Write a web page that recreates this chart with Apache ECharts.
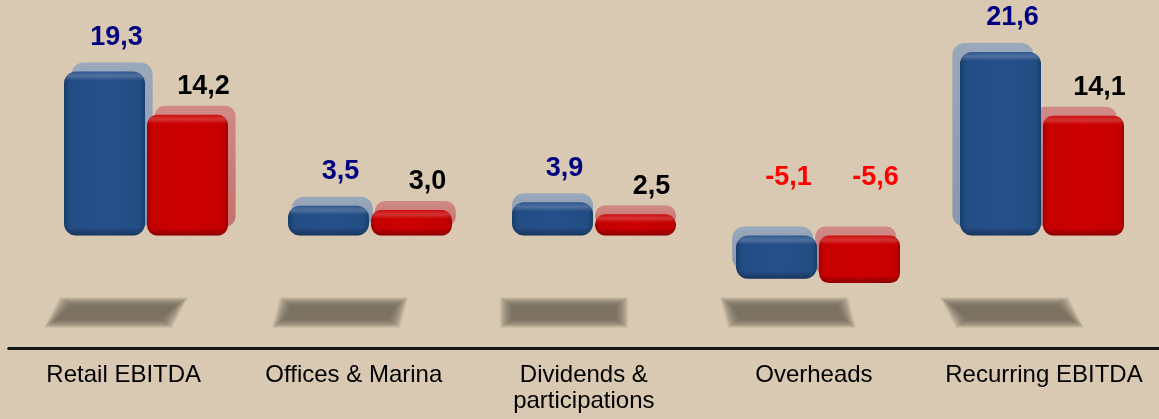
<!DOCTYPE html>
<html>
<head>
<meta charset="utf-8">
<script src="https://cdn.jsdelivr.net/npm/echarts@6/dist/echarts.min.js"></script>
<style>
html,body{margin:0;padding:0;background:#d9c9b2;}
#chart{width:1159px;height:419px;}
</style>
</head>
<body>
<div id="chart"></div>
<script>
// ---- data ----
const categories = ['Retail EBITDA', 'Offices & Marina', 'Dividends &\nparticipations', 'Overheads', 'Recurring EBITDA'];
const seriesBlue = [19.3, 3.5, 3.9, -5.1, 21.6];
const seriesRed = [14.2, 3.0, 2.5, -5.6, 14.1];

function fmt(v) { return v.toFixed(1).replace('.', ','); }

const BLUE = {
  back: ['#9aa8bb', '#8697ad'],
  front: ['#173d6b', '#224c84', '#25508a', '#224c84', '#173d6b'],
  label: '#000080', dx: 12, dy: -34
};
const RED = {
  back: ['#d08a86', '#c5706c'],
  front: ['#a80000', '#c80000', '#cd0000', '#c60000', '#a40000'],
  label: '#000000', dx: 16, dy: -28
};

function makeRender(isBlue) {
  const pal = isBlue ? BLUE : RED;
  return function (params, api) {
    const i = api.value(0), v = api.value(1);
    const base = api.coord([i, 0]);
    const cx = base[0], y0 = base[1];
    const yv = api.coord([i, v])[1];
    const midX = api.coord([2, 0])[0];
    const W = 81;
    const left = isBlue ? cx - 82 : cx + 1;
    const top = Math.min(y0, yv);
    const h = Math.max(Math.abs(yv - y0), 16);
    const dx = -(cx - midX) * 0.017;
    const dy = -9;
    const r = isBlue ? 12 : 10;
    const children = [];

    // soft floor shadow (drawn once per category with the blue series)
    if (isBlue) {
      const sx = cx - 30;
      const s = (cx - midX) * 0.035;
      const sy0 = y0 + 66, sy1 = y0 + 88;
      for (let k = 0; k < 13; k++) {
        const g = 6 - k; // outer (soft) to inner
        children.push({
          type: 'polygon', z2: -10, smooth: 0,
          shape: {
            points: [
              [sx - 58 - s / 2 - g, sy0 - g * 0.7],
              [sx + 58 - s / 2 + g, sy0 - g * 0.7],
              [sx + 58 + s / 2 + g, sy1 + g * 0.7],
              [sx - 58 + s / 2 - g, sy1 + g * 0.7]
            ]
          },
          style: { fill: 'rgba(105,95,80,0.12)' }
        });
      }
    }
    // back (depth) face
    children.push({
      type: 'rect', z2: 0,
      shape: { x: left + dx, y: top + dy, width: W, height: h, r: r },
      style: {
        fill: {
          type: 'linear', x: 0, y: 0, x2: 0, y2: 1,
          colorStops: [
            { offset: 0, color: pal.back[0] },
            { offset: 1, color: pal.back[1] }
          ]
        }
      }
    });
    // front face
    children.push({
      type: 'rect', z2: isBlue ? 10 : 11,
      shape: { x: left, y: top, width: W, height: h, r: r },
      style: {
        fill: {
          type: 'linear', x: 0, y: 0, x2: 1, y2: 0,
          colorStops: [
            { offset: 0, color: pal.front[0] },
            { offset: 0.07, color: pal.front[1] },
            { offset: 0.5, color: pal.front[2] },
            { offset: 0.93, color: pal.front[3] },
            { offset: 1, color: pal.front[4] }
          ]
        }
      }
    });
    // gloss / bottom shade overlay
    const hi = Math.min(9 / h, 0.4), lo = Math.max(1 - 8 / h, 0.6);
    children.push({
      type: 'rect', z2: isBlue ? 10.5 : 11.5,
      shape: { x: left, y: top, width: W, height: h, r: r },
      style: {
        fill: {
          type: 'linear', x: 0, y: 0, x2: 0, y2: 1,
          colorStops: [
            { offset: 0, color: 'rgba(255,255,255,0.05)' },
            { offset: hi * 0.5, color: 'rgba(255,255,255,0.20)' },
            { offset: hi, color: 'rgba(255,255,255,0)' },
            { offset: lo, color: 'rgba(0,0,0,0)' },
            { offset: 1, color: 'rgba(0,0,0,0.30)' }
          ]
        }
      }
    });
    // value label
    const lx = left + W / 2 + pal.dx;
    const ly = v >= 0 ? top + pal.dy : y0 - 58;
    children.push({
      type: 'text', z2: 20,
      x: lx, y: ly,
      style: {
        text: fmt(v),
        fill: v < 0 ? '#ff0000' : pal.label,
        font: 'bold 27px Arial, "Liberation Sans", sans-serif',
        align: 'center', verticalAlign: 'middle'
      }
    });
    return { type: 'group', children: children };
  };
}

const chart = echarts.init(document.getElementById('chart'), null, { renderer: 'canvas' });
chart.setOption({
  backgroundColor: '#d9c9b2',
  animation: false,
  grid: [
    { left: 34, right: 5, top: 31.5, bottom: 64.5 },
    { left: 8.7, right: -17.7, top: 20, bottom: 71 }
  ],
  xAxis: [
    { gridIndex: 0, type: 'category', data: categories, show: false },
    {
      gridIndex: 1, type: 'category', data: categories,
      axisLine: { show: true, lineStyle: { color: '#161616', width: 3 } },
      axisTick: { show: false },
      axisLabel: {
        interval: 0, margin: 14, color: '#000', fontSize: 24, lineHeight: 26,
        fontFamily: 'Arial, "Liberation Sans", sans-serif'
      }
    }
  ],
  yAxis: [
    { gridIndex: 0, type: 'value', min: -14, max: 24, show: false },
    { gridIndex: 1, type: 'value', min: 0, max: 1, show: false }
  ],
  series: [
    {
      type: 'custom', xAxisIndex: 0, yAxisIndex: 0,
      renderItem: makeRender(true),
      data: seriesBlue.map((v, i) => [i, v])
    },
    {
      type: 'custom', xAxisIndex: 0, yAxisIndex: 0,
      renderItem: makeRender(false),
      data: seriesRed.map((v, i) => [i, v])
    }
  ]
});
</script>
</body>
</html>
